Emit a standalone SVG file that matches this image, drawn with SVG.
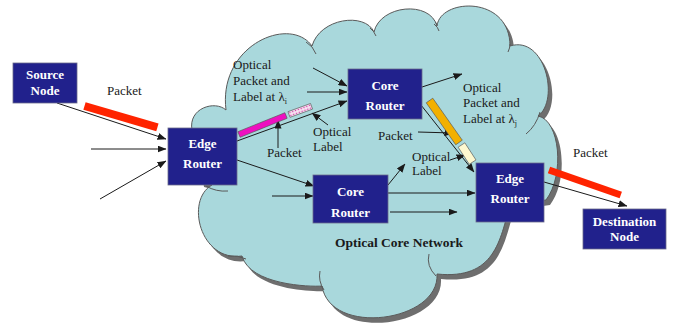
<svg xmlns="http://www.w3.org/2000/svg" width="676" height="324" viewBox="0 0 676 324" font-family="'Liberation Serif', 'DejaVu Serif', serif">
<style>
  .box { fill: #21218c; stroke: #6a6a8a; stroke-width: 0.8; }
  .bt { font-family: 'Liberation Serif', 'DejaVu Serif', serif; font-size: 13px; font-weight: bold; fill: #ffffff; text-anchor: middle; }
  .t { font-family: 'Liberation Serif', 'DejaVu Serif', serif; font-size: 13px; fill: #1a1a1a; }
  .tb { font-family: 'Liberation Serif', 'DejaVu Serif', serif; font-size: 13.5px; font-weight: bold; fill: #1a1a1a; }
  .c { stroke: #1a1a1a; stroke-width: 1; fill: none; marker-end: url(#ah); }
  .cl { fill: #a9d8dc; stroke: #5a5a5a; stroke-width: 1; }
  .tail { fill: none; stroke: #5a5a5a; stroke-width: 1; }
  .bar { stroke: #555; stroke-width: 0.6; }
</style>
<defs>
  <marker id="ah" markerWidth="9" markerHeight="7" refX="8.5" refY="3.5" orient="auto" markerUnits="userSpaceOnUse">
    <path d="M0,0 L9,3.5 L0,7 Z" fill="#1a1a1a"/>
  </marker>
  <pattern id="dots" width="3" height="3" patternUnits="userSpaceOnUse">
    <rect width="3" height="3" fill="#f8e4f2"/>
    <circle cx="1.5" cy="1.5" r="0.8" fill="#d040a8"/>
  </pattern>
  <path id="cloudPath" d="M226,110 C218,45 290,15 312,46 C320,18 365,12 374,32 C380,5 430,0 437,26 C440,-2 510,-5 510,46 C545,35 560,100 538,116 C560,120 565,175 546,200 L510,205 C500,240 495,280 437,274 C440,322 330,337 322,286 C310,287 250,285 242,256 C200,262 185,200 212,185 L200,182 L192,130 C188,108 215,100 226,110 Z"/>
</defs>

<g id="cloud">
  <use href="#cloudPath" transform="translate(4,5)" fill="#6e6e6e" stroke="none"/>
  <use href="#cloudPath" class="cl"/>
  <path class="tail" d="M306,42 Q313,46 316,54"/>
  <path class="tail" d="M370,28 Q374,31 376,36"/>
  <path class="tail" d="M434,24 Q438,27 439,31"/>
  <path class="tail" d="M510,44 Q510,48 508,52"/>
  <path class="tail" d="M540,112 Q536,126 526,134"/>
  <path class="tail" d="M436,276 Q426,266 429,254"/>
  <path class="tail" d="M324,290 Q318,281 320,271"/>
  <path class="tail" d="M246,259 Q238,255 228,256"/>
  <path class="tail" d="M206,186 Q216,192 228,191"/>
  <text class="tb" x="335" y="247">Optical Core Network</text>
</g>

<g id="connectors">
  <line class="c" x1="57" y1="103" x2="166" y2="139"/>
  <line class="c" x1="91" y1="149" x2="166" y2="149"/>
  <line class="c" x1="100" y1="199" x2="166" y2="161"/>
  <line class="c" x1="237" y1="141" x2="347" y2="101"/>
  <line class="c" x1="313" y1="68" x2="347" y2="86"/>
  <line class="c" x1="307" y1="92" x2="347" y2="92"/>
  <line class="c" x1="422" y1="87" x2="462" y2="74"/>
  <line class="c" x1="421" y1="105" x2="474" y2="172"/>
  <line class="c" x1="388" y1="185" x2="405" y2="164"/>
  <line class="c" x1="388" y1="193" x2="475" y2="193"/>
  <line class="c" x1="390" y1="212" x2="457" y2="212"/>
  <line class="c" x1="272" y1="196" x2="313" y2="196"/>
  <line class="c" x1="237" y1="160" x2="314" y2="186"/>
  <line class="c" x1="544" y1="182" x2="627" y2="206"/>
  <line class="c" x1="278" y1="148" x2="278" y2="120"/>
  <line class="c" x1="328" y1="125" x2="312" y2="113"/>
  <line class="c" x1="418" y1="132" x2="453" y2="133"/>
  <line class="c" x1="450" y1="160" x2="465" y2="155"/>
</g>

<g id="bars">
  <rect x="0" y="-4" width="76" height="8" fill="#ff2400" transform="translate(84.5,106) rotate(16.4)"/>
  <rect x="0" y="-3.5" width="76" height="7" fill="#ff2400" transform="translate(549,170) rotate(19.2)"/>
  <rect class="bar" x="0" y="-3" width="50.7" height="6" fill="#ee10c0" transform="translate(239,134.5) rotate(-22)"/>
  <rect class="bar" x="0" y="-3" width="24" height="6" fill="url(#dots)" transform="translate(289,114.5) rotate(-20)"/>
  <rect class="bar" x="0" y="-4" width="51.3" height="8" fill="#f2b000" transform="translate(429.5,100.5) rotate(54.9)"/>
  <rect class="bar" x="0" y="-4" width="20.4" height="8" fill="#fdf8d0" transform="translate(461.5,145) rotate(57)"/>
</g>

<g id="source-node">
  <rect class="box" x="13" y="63" width="64" height="40"/>
  <text class="bt" x="45" y="79">Source</text>
  <text class="bt" x="45" y="95">Node</text>
</g>
<g id="edge-router-1">
  <rect class="box" x="168" y="128" width="69" height="57"/>
  <text class="bt" x="202.5" y="148">Edge</text>
  <text class="bt" x="202.5" y="168">Router</text>
</g>
<g id="core-router-1">
  <rect class="box" x="348" y="69" width="74" height="50"/>
  <text class="bt" x="385" y="90">Core</text>
  <text class="bt" x="385" y="110">Router</text>
</g>
<g id="core-router-2">
  <rect class="box" x="313" y="175" width="75" height="48"/>
  <text class="bt" x="350.5" y="196">Core</text>
  <text class="bt" x="350.5" y="217">Router</text>
</g>
<g id="edge-router-2">
  <rect class="box" x="476" y="163" width="68" height="59"/>
  <text class="bt" x="510" y="183">Edge</text>
  <text class="bt" x="510" y="203">Router</text>
</g>
<g id="destination-node">
  <rect class="box" x="583" y="209" width="83" height="40"/>
  <text class="bt" x="624.5" y="226">Destination</text>
  <text class="bt" x="624.5" y="241">Node</text>
</g>

<g id="labels">
  <text class="t" x="107" y="95">Packet</text>
  <text class="t" x="573" y="157">Packet</text>
  <text class="t" x="233" y="69">Optical</text>
  <text class="t" x="233" y="85">Packet and</text>
  <text class="t" x="233" y="101">Label at λ<tspan font-size="8" dy="3">i</tspan></text>
  <text class="t" x="267" y="157">Packet</text>
  <text class="t" x="313" y="136">Optical</text>
  <text class="t" x="313" y="151">Label</text>
  <text class="t" x="463" y="92">Optical</text>
  <text class="t" x="463" y="107">Packet and</text>
  <text class="t" x="463" y="123">Label at λ<tspan font-size="8" dy="3">j</tspan></text>
  <text class="t" x="378" y="140">Packet</text>
  <text class="t" x="412" y="161">Optical</text>
  <text class="t" x="412" y="175">Label</text>
</g>
</svg>
